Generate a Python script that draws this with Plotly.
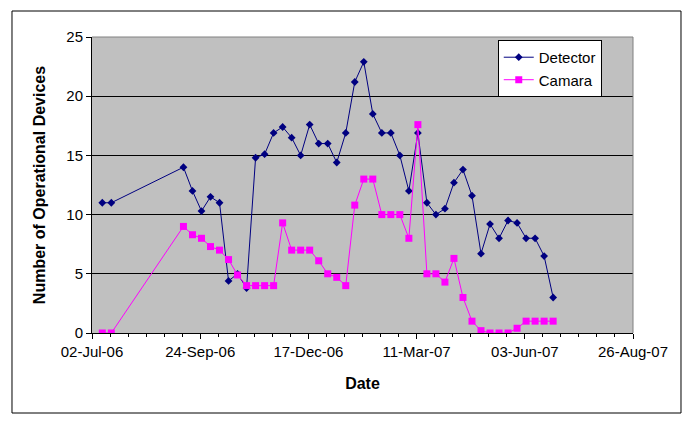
import plotly.graph_objects as go

dates = ["2006-07-10", "2006-07-17", "2006-09-11", "2006-09-18", "2006-09-25", "2006-10-02",
         "2006-10-09", "2006-10-16", "2006-10-23", "2006-10-30", "2006-11-06", "2006-11-13",
         "2006-11-20", "2006-11-27", "2006-12-04", "2006-12-11", "2006-12-18", "2006-12-25",
         "2007-01-01", "2007-01-08", "2007-01-15", "2007-01-22", "2007-01-29", "2007-02-05",
         "2007-02-12", "2007-02-19", "2007-02-26", "2007-03-05", "2007-03-12", "2007-03-19",
         "2007-03-26", "2007-04-02", "2007-04-09", "2007-04-16", "2007-04-23", "2007-04-30",
         "2007-05-07", "2007-05-14", "2007-05-21", "2007-05-28", "2007-06-04", "2007-06-11",
         "2007-06-18", "2007-06-25"]

detector = [11.0, 11.0, 14.0, 12.0, 10.3, 11.5, 11.0, 4.4, 5.0, 3.8, 14.8, 15.1,
            16.9, 17.4, 16.5, 15.0, 17.6, 16.0, 16.0, 14.4, 16.9, 21.2, 22.9, 18.5,
            16.9, 16.9, 15.0, 12.0, 16.9, 11.0, 10.0, 10.5, 12.7, 13.8, 11.6, 6.7,
            9.2, 8.0, 9.5, 9.3, 8.0, 8.0, 6.5, 3.0]

camara = [0.0, 0.0, 9.0, 8.3, 8.0, 7.3, 7.0, 6.2, 4.9, 4.0, 4.0, 4.0,
          4.0, 9.3, 7.0, 7.0, 7.0, 6.1, 5.0, 4.7, 4.0, 10.8, 13.0, 13.0,
          10.0, 10.0, 10.0, 8.0, 17.6, 5.0, 5.0, 4.3, 6.3, 3.0, 1.0, 0.2,
          0.0, 0.0, 0.0, 0.4, 1.0, 1.0, 1.0, 1.0]

x_range = ["2006-07-02", "2007-08-26"]
y_range = [0, 25]

FONT = "Liberation Sans, Arial, sans-serif"
DAY = 86400000

fig = go.Figure()
fig.add_trace(go.Scatter(
    x=dates, y=detector, name="Detector", mode="lines+markers",
    line=dict(color="#000080", width=1),
    marker=dict(symbol="diamond", size=6, color="#000080"),
))
fig.add_trace(go.Scatter(
    x=dates, y=camara, name="Camara", mode="lines+markers",
    line=dict(color="#FF00FF", width=1),
    marker=dict(symbol="square", size=7, color="#FF00FF"),
))

fig.update_layout(
    width=691, height=427,
    margin=dict(l=92, r=58, t=37, b=94),
    paper_bgcolor="white",
    plot_bgcolor="#C0C0C0",
    font=dict(family=FONT, size=15, color="black"),
    showlegend=True,
    legend=dict(
        x=0.75, y=0.99, xanchor="left", yanchor="top",
        bgcolor="white", bordercolor="black", borderwidth=1,
        font=dict(family=FONT, size=15, color="black"),
        itemwidth=30,
        tracegroupgap=0,
    ),
    xaxis=dict(
        type="date", range=x_range,
        tick0="2006-07-02", dtick=84 * DAY, tickformat="%d-%b-%y",
        ticks="outside", ticklen=5, tickcolor="black",
        showline=True, linecolor="black", linewidth=1,
        showgrid=False, zeroline=False,
        minor=dict(dtick=14 * DAY, tick0="2006-07-02", ticks="outside",
                   ticklen=3, tickcolor="black", showgrid=False),
        tickfont=dict(size=15),
        title=dict(text="<b>Date</b>", font=dict(size=16), standoff=18),
    ),
    yaxis=dict(
        range=y_range, dtick=5, tick0=0,
        ticks="outside", ticklen=5, tickcolor="black",
        showline=True, linecolor="black", linewidth=1,
        showgrid=True, gridcolor="black", gridwidth=1,
        zeroline=False,
        tickfont=dict(size=15),
        title=dict(text="<b>Number of Operational Devices</b>", font=dict(size=16), standoff=16),
    ),
    shapes=[
        # outer chart border
        dict(type="rect", xref="paper", yref="paper",
             x0=-0.1479, x1=1.0887, y0=-0.2703, y1=1.0878,
             line=dict(color="black", width=1), layer="below"),
        # plot area top and right edges in grey
        dict(type="line", xref="paper", yref="paper", x0=0, x1=1, y0=1, y1=1,
             line=dict(color="#808080", width=1), layer="above"),
        dict(type="line", xref="paper", yref="paper", x0=1, x1=1, y0=0, y1=1,
             line=dict(color="#808080", width=1), layer="above"),
    ],
)

fig.write_html("out.html")
